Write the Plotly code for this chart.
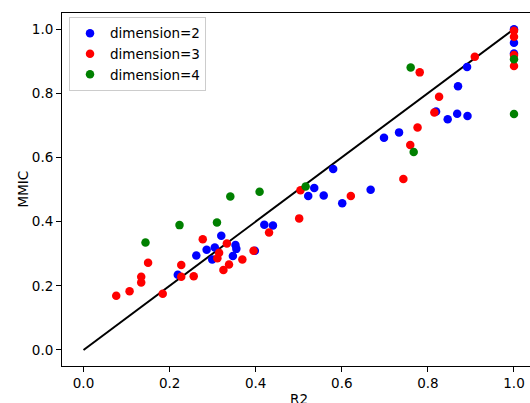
import plotly.graph_objects as go

# dimension=2 (blue)
d2_x = [0.219, 0.262, 0.286, 0.299, 0.305, 0.320, 0.353, 0.355, 0.347, 0.398,
        0.420, 0.440, 0.522, 0.536, 0.558, 0.580, 0.601, 0.667, 0.698, 0.733,
        0.819, 0.846, 0.868, 0.892, 0.870, 0.891, 1.0, 1.0, 1.0]
d2_y = [0.234, 0.294, 0.312, 0.282, 0.319, 0.356, 0.327, 0.315, 0.293, 0.309,
        0.390, 0.388, 0.480, 0.505, 0.481, 0.564, 0.457, 0.499, 0.661, 0.678,
        0.743, 0.719, 0.736, 0.729, 0.822, 0.882, 0.999, 0.957, 0.924]

# dimension=3 (red)
d3_x = [0.150, 0.134, 0.134, 0.107, 0.076, 0.184, 0.227, 0.227, 0.256, 0.277,
        0.311, 0.315, 0.333, 0.338, 0.325, 0.369, 0.395, 0.431, 0.501, 0.504,
        0.621, 0.743, 0.759, 0.776, 0.815, 0.826, 0.781, 0.909, 1.0, 1.0,
        1.0, 1.0]
d3_y = [0.272, 0.228, 0.210, 0.183, 0.169, 0.175, 0.265, 0.228, 0.230, 0.345,
        0.286, 0.303, 0.332, 0.266, 0.249, 0.282, 0.309, 0.366, 0.410, 0.498,
        0.480, 0.533, 0.639, 0.693, 0.740, 0.789, 0.865, 0.914, 0.995, 0.976,
        0.919, 0.885]

# dimension=4 (green)
d4_x = [0.144, 0.223, 0.310, 0.341, 0.409, 0.516, 0.767, 0.760, 1.0, 1.0]
d4_y = [0.335, 0.389, 0.397, 0.478, 0.493, 0.509, 0.617, 0.880, 0.906, 0.735]

# identity reference line
line_x = [0.0, 1.0]
line_y = [0.0, 1.0]

x_ticks = [0.0, 0.2, 0.4, 0.6, 0.8, 1.0]
y_ticks = [0.0, 0.2, 0.4, 0.6, 0.8, 1.0]
tick_text = ["0.0", "0.2", "0.4", "0.6", "0.8", "1.0"]

FONT = "DejaVu Sans"
FS = 13.5

fig = go.Figure()
fig.add_trace(go.Scatter(x=line_x, y=line_y, mode="lines",
                         line=dict(color="black", width=2), showlegend=False))
fig.add_trace(go.Scatter(x=d2_x, y=d2_y, mode="markers", name="dimension=2",
                         marker=dict(color="#0000ff", size=8.5)))
fig.add_trace(go.Scatter(x=d3_x, y=d3_y, mode="markers", name="dimension=3",
                         marker=dict(color="#ff0000", size=8.5)))
fig.add_trace(go.Scatter(x=d4_x, y=d4_y, mode="markers", name="dimension=4",
                         marker=dict(color="#008000", size=8.5)))

fig.update_layout(
    width=530, height=403,
    margin=dict(l=62, r=0, t=13, b=37),
    paper_bgcolor="white", plot_bgcolor="white",
    font=dict(family=FONT, size=FS, color="black"),
    showlegend=True,
    legend=dict(x=0.015, y=0.989, xanchor="left", yanchor="top",
                bgcolor="rgba(255,255,255,0.8)", bordercolor="#cccccc",
                borderwidth=1, font=dict(family=FONT, size=FS, color="black"),
                tracegroupgap=0),
    xaxis=dict(range=[-0.05, 1.0372], tickvals=x_ticks, ticktext=tick_text,
               showgrid=False, zeroline=False, showline=True, linecolor="black",
               linewidth=1, mirror=True, ticks="outside", ticklen=5,
               tickwidth=1, tickcolor="black"),
    yaxis=dict(range=[-0.05, 1.05], tickvals=y_ticks, ticktext=tick_text,
               showgrid=False, zeroline=False, showline=True, linecolor="black",
               linewidth=1, mirror=False, ticks="outside", ticklen=5,
               tickwidth=1, tickcolor="black"),
    annotations=[
        dict(text="R2", xref="x", x=0.5, yref="paper", y=0, yanchor="top",
             yshift=-23, showarrow=False, font=dict(family=FONT, size=FS)),
        dict(text="MMIC", xref="paper", x=0, xanchor="center", xshift=-40,
             yref="paper", y=0.5, textangle=-90, showarrow=False,
             font=dict(family=FONT, size=FS)),
    ],
)

fig.write_html("out.html")
